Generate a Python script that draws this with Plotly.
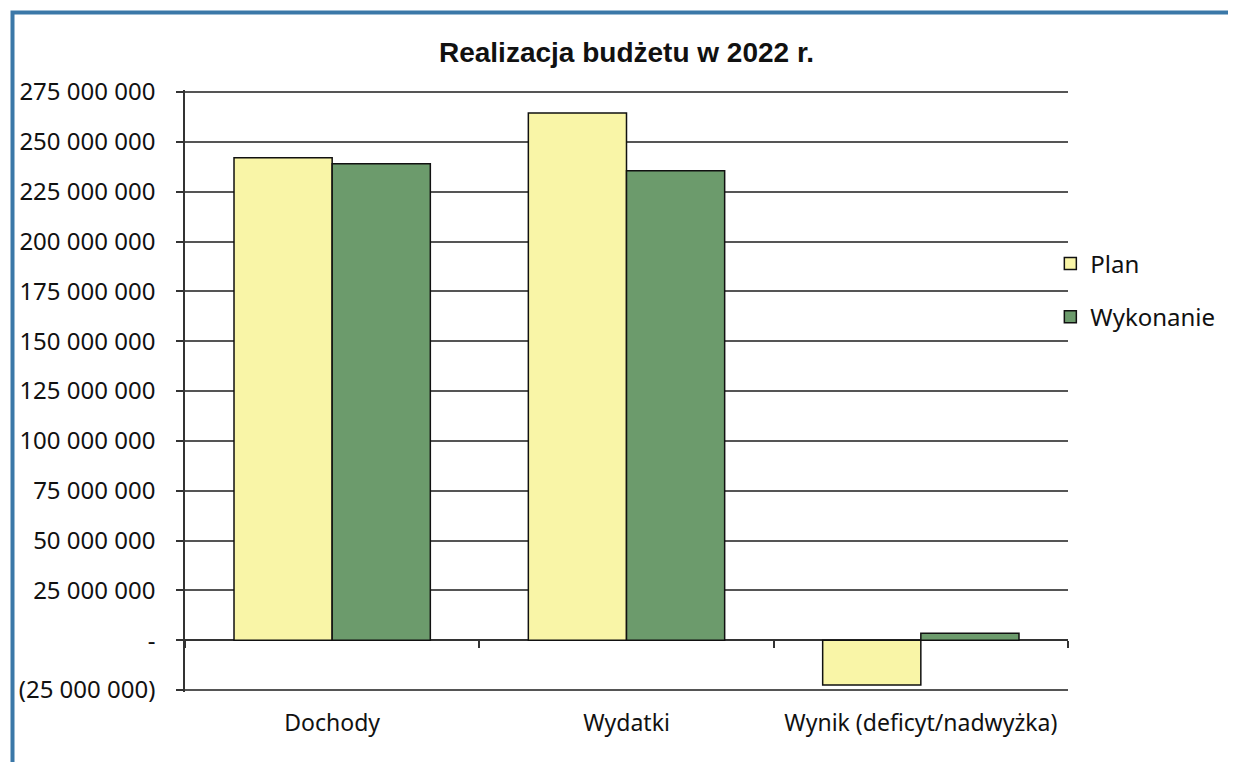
import plotly.graph_objects as go

# dane
kategorie = ['Dochody', 'Wydatki', 'Wynik (deficyt/nadwyżka)']
plan = [242000000, 264500000, -22500000]
wykonanie = [239000000, 235500000, 3500000]

tick_vals = [-25000000, 0, 25000000, 50000000, 75000000, 100000000, 125000000,
             150000000, 175000000, 200000000, 225000000, 250000000, 275000000]
tick_text = ['(25 000 000)', '-', '25 000 000', '50 000 000', '75 000 000',
             '100 000 000', '125 000 000', '150 000 000', '175 000 000',
             '200 000 000', '225 000 000', '250 000 000', '275 000 000']

font_main = 'Noto Sans'

# strona ma margines 8 px, więc figura jest mniejsza o tyle
W, H = 1228, 754
L, R, T, B = 177, 168, 82, 70
pw, ph = W - L - R, H - T - B

fig = go.Figure()
fig.add_trace(go.Bar(x=kategorie, y=plan, name='Plan', legendgroup='a',
                     marker=dict(color='#F9F5A7', line=dict(color='#111', width=1.5))))
fig.add_trace(go.Bar(x=kategorie, y=wykonanie, name='Wykonanie', legendgroup='b',
                     marker=dict(color='#6C9B6C', line=dict(color='#111', width=1.5))))
# niewidoczna seria dla znaczników osi x w zerze
fig.add_trace(go.Scatter(x=kategorie, y=[0, 0, 0], xaxis='x2', mode='none',
                         showlegend=False, hoverinfo='skip'))

y_lo, y_hi = -26000000, 276000000

fig.update_layout(
    width=W, height=H,
    margin=dict(l=L, r=R, t=T, b=B),
    paper_bgcolor='white', plot_bgcolor='white',
    barmode='group', bargap=0.333, bargroupgap=0,
    title=dict(text='<b>Realizacja budżetu w 2022 r.</b>', x=0.5, xref='paper',
               y=1 - 44 / H, yref='container', yanchor='middle',
               font=dict(family='Liberation Sans', size=28, color='#111')),
    font=dict(family=font_main, size=23, color='#111'),
    legend=dict(x=0.98, xanchor='left', y=0.667, yanchor='middle',
                tracegroupgap=19, font=dict(size=24), bgcolor='rgba(0,0,0,0)'),
    xaxis=dict(range=[-0.5, 2.5], showline=False, showgrid=False,
               ticks='outside', ticklen=10, tickcolor='rgba(0,0,0,0)'),
    xaxis2=dict(overlaying='x', matches='x', anchor='free',
                position=(0 - y_lo) / (y_hi - y_lo),
                showline=False,
                ticks='outside', tickson='boundaries', ticklen=7,
                tickcolor='#333', tickwidth=1.5, showticklabels=False,
                showgrid=False),
    yaxis=dict(range=[y_lo, y_hi], tickvals=tick_vals, ticktext=tick_text,
               showline=True, linecolor='#333', linewidth=1.5,
               ticks='outside', ticklen=7, tickcolor='#333', tickwidth=1.5,
               ticklabelstandoff=16, tickfont=dict(size=24),
               showgrid=True, gridcolor='#555', gridwidth=1.5,
               zeroline=True, zerolinecolor='#333', zerolinewidth=1.5),
)

# niebieska ramka wykresu
fig.add_shape(type='rect', xref='paper', yref='paper',
              x0=(4.5 - L) / pw, x1=(1225 - L) / pw,
              y0=(ph + T - 780) / ph, y1=(ph + T - 4.5) / ph,
              line=dict(color='#3B78A8', width=4), layer='below')

fig.write_html('out.html')
